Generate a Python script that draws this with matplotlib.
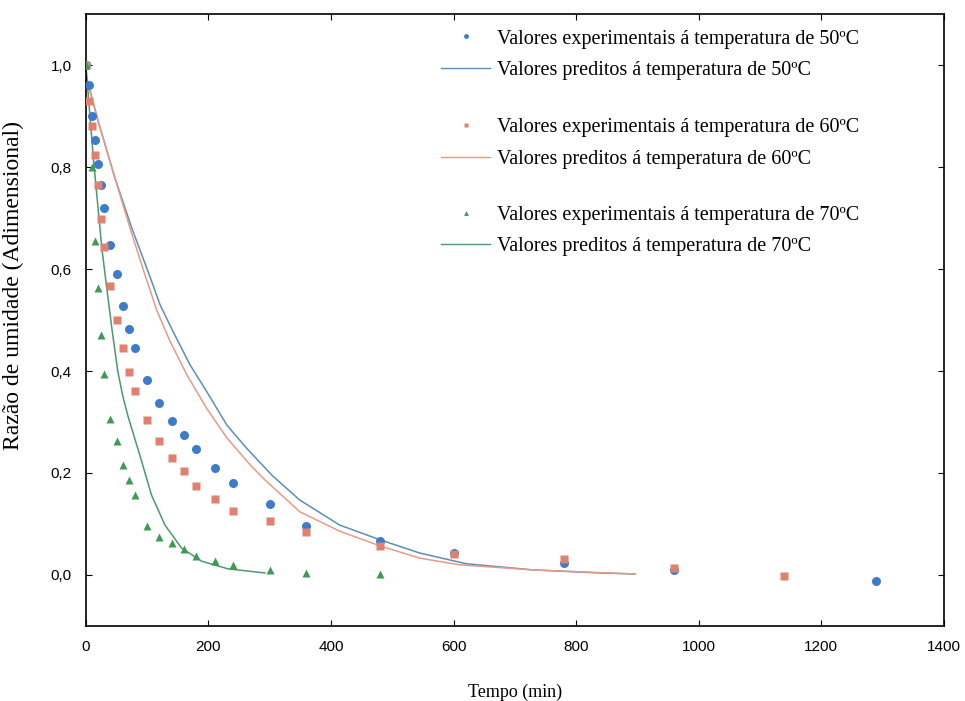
import numpy as np
import matplotlib
matplotlib.use("Agg")
import matplotlib.pyplot as plt
from matplotlib.legend import Legend
from matplotlib.lines import Line2D
from matplotlib.ticker import FuncFormatter

# experimental points, 50 C
t_50 = [0, 5, 10, 15, 20, 25, 30, 40, 50, 60, 70, 80, 100, 120, 140, 160, 180,
        210, 240, 300, 360, 480, 600, 780, 960, 1290]
mr_50 = [1.0, 0.96, 0.90, 0.853, 0.806, 0.765, 0.72, 0.647, 0.59, 0.527, 0.482,
         0.445, 0.382, 0.337, 0.302, 0.274, 0.247, 0.21, 0.18, 0.139, 0.096,
         0.066, 0.043, 0.024, 0.01, -0.012]

# experimental points, 60 C
t_60 = [0, 5, 10, 15, 20, 25, 30, 40, 50, 60, 70, 80, 100, 120, 140, 160, 180,
        210, 240, 300, 360, 480, 600, 780, 960, 1140]
mr_60 = [1.0, 0.93, 0.88, 0.824, 0.765, 0.698, 0.643, 0.566, 0.50, 0.445, 0.398,
         0.361, 0.304, 0.263, 0.229, 0.204, 0.175, 0.149, 0.126, 0.106, 0.084,
         0.057, 0.041, 0.031, 0.014, -0.002]

# experimental points, 70 C
t_70 = [0, 10, 15, 20, 25, 30, 40, 50, 60, 70, 80, 100, 120, 140, 160, 180,
        210, 240, 300, 360, 480]
mr_70 = [1.0, 0.80, 0.655, 0.563, 0.47, 0.394, 0.306, 0.263, 0.216, 0.186,
         0.157, 0.096, 0.075, 0.062, 0.05, 0.037, 0.027, 0.019, 0.01, 0.004,
         0.002]

# predicted curves
tp_50 = [0, 20, 47, 75, 103, 121, 142, 170, 197, 230, 262, 305, 349, 414, 480,
         545, 621, 729, 839, 896]
mp_50 = [0.98, 0.89, 0.78, 0.68, 0.59, 0.53, 0.478, 0.412, 0.36, 0.294, 0.249,
         0.194, 0.147, 0.098, 0.069, 0.043, 0.022, 0.01, 0.004, 0.002]
tp_60 = [0, 20, 47, 72, 96, 116, 137, 165, 197, 230, 268, 289, 349, 414, 480,
         545, 610, 729, 896]
mp_60 = [0.98, 0.89, 0.78, 0.68, 0.59, 0.518, 0.459, 0.392, 0.327, 0.269,
         0.216, 0.19, 0.124, 0.086, 0.057, 0.033, 0.02, 0.01, 0.002]
tp_70 = [0, 12, 26, 34, 43, 52, 60, 69, 88, 107, 129, 156, 189, 232, 292]
mp_70 = [1.0, 0.82, 0.641, 0.563, 0.478, 0.40, 0.352, 0.31, 0.235, 0.157,
         0.098, 0.053, 0.027, 0.012, 0.004]

x_ticks = [0, 200, 400, 600, 800, 1000, 1200, 1400]
y_ticks = [0.0, 0.2, 0.4, 0.6, 0.8, 1.0]

c_blue, c_red, c_green = "#3d7cc9", "#e0806e", "#3e9a55"
l_blue, l_red, l_green = "#5b8fb5", "#e89a88", "#4a9a6e"

fig = plt.figure(figsize=(9.65, 7.01), dpi=100)
ax = fig.add_axes([0.089, 0.107, 0.889, 0.873])

ax.plot(tp_50, mp_50, color=l_blue, lw=1.1, zorder=2)
ax.plot(tp_60, mp_60, color=l_red, lw=1.1, zorder=2)
ax.plot(tp_70, mp_70, color=l_green, lw=1.1, zorder=2)

ax.plot(t_50, mr_50, "o", color=c_blue, ms=6.5, mec="none", zorder=3)
ax.plot(t_60, mr_60, "s", color=c_red, ms=6, mec="none", zorder=4)
ax.plot(t_70, mr_70, "^", color=c_green, ms=5.5, mec="none", zorder=5)

ax.set_xlim(0, 1400)
ax.set_ylim(-0.1, 1.1)
ax.set_xticks(x_ticks)
ax.set_yticks(y_ticks)
ax.yaxis.set_major_formatter(FuncFormatter(lambda v, p: f"{v:.1f}".replace(".", ",")))
ax.tick_params(direction="in", length=4, top=True, right=True,
               labelsize=11, pad=10, labelfontfamily="Liberation Sans")
for s in ax.spines.values():
    s.set_linewidth(1.2)

serif = "Liberation Serif"
ax.set_xlabel("Tempo (min)", family=serif, fontsize=13)
ax.xaxis.set_label_coords(0.50, -0.095)
ax.set_ylabel("Razão de umidade (Adimensional)", family=serif, fontsize=17)
ax.yaxis.set_label_coords(-0.072, 0.556)

pairs = [
    ("o", c_blue, l_blue, "50"),
    ("s", c_red, l_red, "60"),
    ("^", c_green, l_green, "70"),
]
tops = [0.988, 0.843, 0.700]
for (mk, mc, lc, temp), top in zip(pairs, tops):
    h1 = Line2D([], [], marker=mk, ls="none", color=mc, ms=3.5, mec="none")
    h2 = Line2D([], [], ls="-", color=lc, lw=1)
    leg = Legend(ax, [h1, h2],
                 [f"Valores experimentais á temperatura de {temp}ºC",
                  f"Valores preditos á temperatura de {temp}ºC"],
                 loc="upper left", bbox_to_anchor=(0.405, top),
                 frameon=False, prop={"family": serif, "size": 14.5},
                 handlelength=2.4, handletextpad=0.35, labelspacing=0.62,
                 borderaxespad=0)
    ax.add_artist(leg)

fig.savefig("out.png", dpi=100)
